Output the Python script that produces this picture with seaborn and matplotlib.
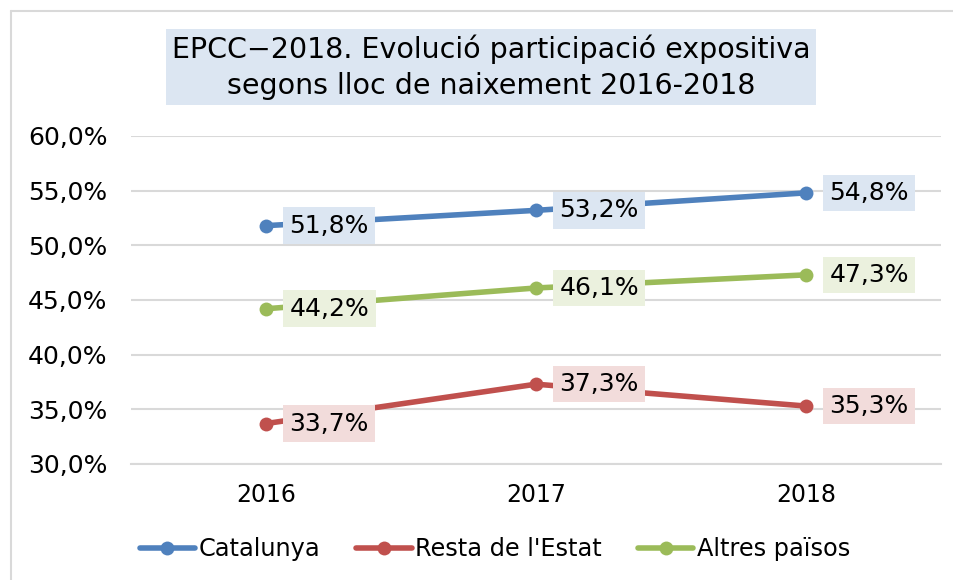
import matplotlib
matplotlib.use('Agg')
import matplotlib.pyplot as plt
import seaborn as sns
import pandas as pd
from matplotlib.lines import Line2D

# Data
years = ['2016', '2017', '2018']
catalunya = [51.8, 53.2, 54.8]
resta_estat = [33.7, 37.3, 35.3]
altres_paisos = [44.2, 46.1, 47.3]
series_names = ['Catalunya', "Resta de l'Estat", 'Altres països']
y_ticks = [30, 35, 40, 45, 50, 55, 60]

line_colors = ['#4F81BD', '#C0504D', '#9BBB59']
box_colors = ['#DCE6F2', '#F2DCDB', '#EBF1DE']

df = pd.DataFrame({
    'year': years * 3,
    'value': catalunya + resta_estat + altres_paisos,
    'serie': [series_names[0]] * 3 + [series_names[1]] * 3 + [series_names[2]] * 3,
})

sns.set_style('white')
plt.rcParams['font.family'] = ['DejaVu Sans']
plt.rcParams['text.color'] = 'black'
plt.rcParams['xtick.color'] = 'black'
plt.rcParams['ytick.color'] = 'black'

fig = plt.figure(figsize=(9.54, 5.80), dpi=100)
ax = fig.add_axes([131 / 954, 1 - 464 / 580, (941 - 131) / 954, (464 - 136) / 580])

sns.lineplot(data=df, x='year', y='value', hue='serie', palette=line_colors,
             marker='o', markersize=10, markeredgewidth=0, linewidth=4,
             ax=ax, legend=False, sort=False)

# Data labels
for vals, bc in zip([catalunya, resta_estat, altres_paisos], box_colors):
    for i, v in enumerate(vals):
        ax.annotate(f'{v:.1f}%'.replace('.', ','), xy=(i, v), xytext=(17, 0),
                    textcoords='offset points', ha='left', va='center', fontsize=18,
                    bbox=dict(boxstyle='square,pad=0.25', fc=bc, ec='none'))

ax.set_xlim(-0.5, 2.5)
ax.set_ylim(30, 60)
ax.set_yticks(y_ticks)
ax.set_yticklabels([f'{t:.1f}%'.replace('.', ',') for t in y_ticks], fontsize=18)
ax.tick_params(axis='x', labelsize=17, pad=14, length=0)
ax.tick_params(axis='y', pad=17, length=0)
ax.set_xlabel('')
ax.set_ylabel('')
ax.grid(axis='y', color='#D9D9D9', linewidth=1.5)
ax.set_axisbelow(True)
for s in ['top', 'right', 'left']:
    ax.spines[s].set_visible(False)
ax.spines['bottom'].set_color('#D9D9D9')
ax.spines['bottom'].set_linewidth(1.5)

# Title box
fig.text(491 / 954, 1 - 67 / 580, 'EPCC\u22122018. Evolució participació expositiva\nsegons lloc de naixement 2016-2018',
         ha='center', va='center', fontsize=20.5, linespacing=1.35,
         bbox=dict(boxstyle='square,pad=0.2', fc='#DCE6F2', ec='none'))

# Legend
handles = [Line2D([0], [0], color=c, lw=4, marker='o', markersize=10, markeredgewidth=0)
           for c in line_colors]
fig.legend(handles, series_names, loc='center', bbox_to_anchor=(495 / 954, 1 - 549 / 580),
           ncol=3, frameon=False, fontsize=17.3, handlelength=2.3, handletextpad=0.15,
           columnspacing=1.5)

# Outer border
fig.add_artist(Line2D([11 / 954, 1.0], [1 - 11 / 580, 1 - 11 / 580], color='#D9D9D9', lw=1.5))
fig.add_artist(Line2D([11 / 954, 11 / 954], [0, 1 - 11 / 580], color='#D9D9D9', lw=1.5))

fig.savefig('out.png', dpi=100)
